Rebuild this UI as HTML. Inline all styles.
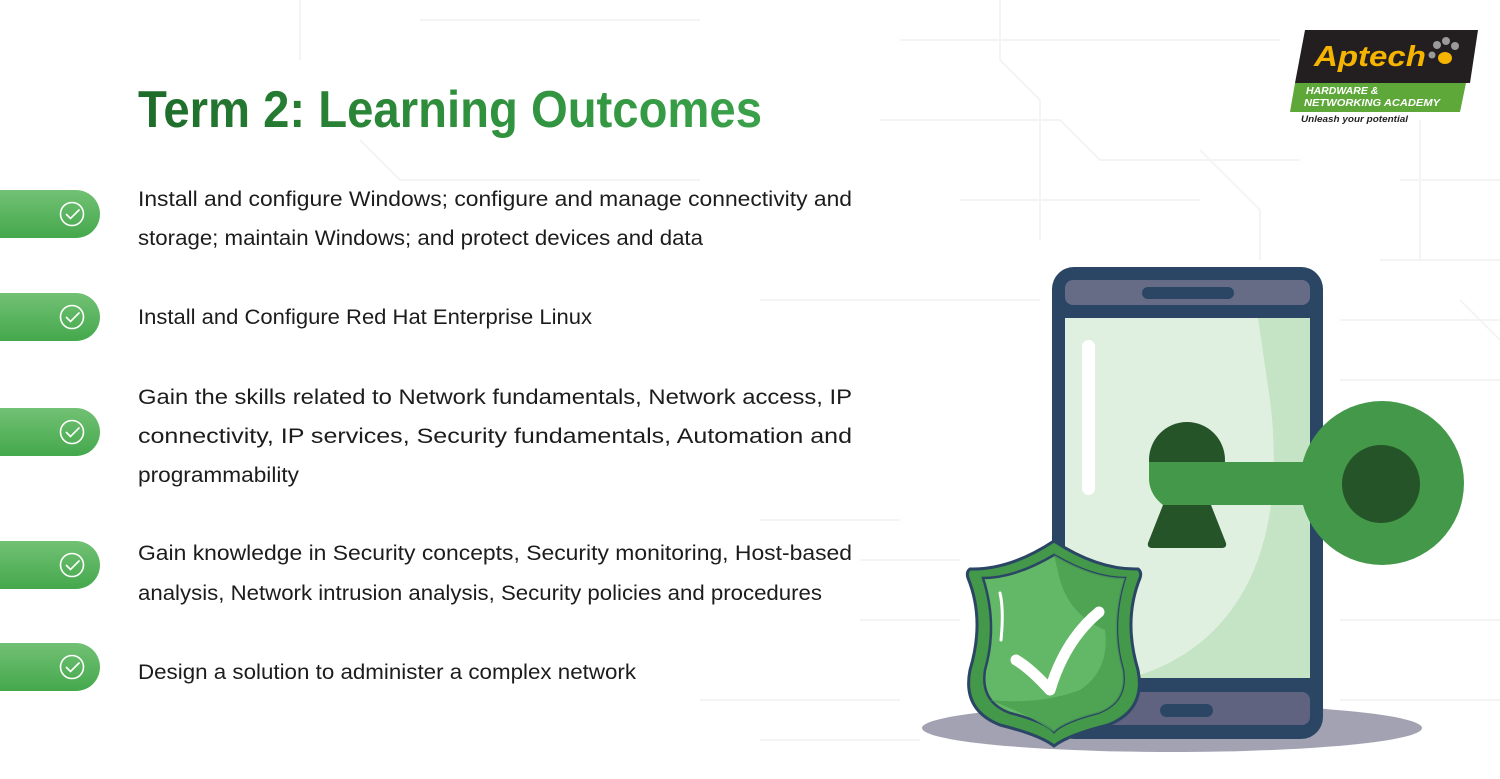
<!DOCTYPE html>
<html><head><meta charset="utf-8"><style>
html,body{margin:0;padding:0;background:#fff}
svg{display:block}
</style></head><body>
<svg width="1500" height="779" viewBox="0 0 1500 779" xmlns="http://www.w3.org/2000/svg">
<defs>
<linearGradient id="tg" x1="0" x2="1" y1="0" y2="0"><stop offset="0" stop-color="#1e6b2a"/><stop offset="0.5" stop-color="#2f8f3c"/><stop offset="1" stop-color="#3aa14a"/></linearGradient>
<linearGradient id="pg" x1="0" x2="0" y1="0" y2="1"><stop offset="0" stop-color="#72c174"/><stop offset="1" stop-color="#44a84c"/></linearGradient>
</defs>
<rect width="1500" height="779" fill="#fff"/>
<g stroke="#f4f4f4" stroke-width="2" fill="none">
<path d="M900 40 H1280 M880 120 H1060 L1100 160 H1300 M960 200 H1200 M1400 180 H1500 M1380 260 H1500 M880 300 H1040 M1340 320 H1500 M1340 380 H1500 M1340 620 H1500 M1340 700 H1500 M860 560 H960 M860 620 H960 M1000 0 V60 L1040 100 V240 M1200 150 L1260 210 V260 M1420 120 V260 M1460 300 L1500 340"/>
<path d="M300 0 V60 M360 140 L400 180 H700 M420 20 H700 M760 300 H900 M760 520 H900 M700 700 H900 M760 740 H920"/>
</g>
<text x="138" y="127" font-family="Liberation Sans, sans-serif" font-weight="bold" font-size="52" fill="url(#tg)" textLength="624" lengthAdjust="spacingAndGlyphs">Term 2: Learning Outcomes</text>
<g id="pills">
<g transform="translate(0,190)"><rect x="-30" y="0" width="130" height="48" rx="24" fill="url(#pg)"/><circle cx="72" cy="24" r="11.5" fill="none" stroke="#fff" stroke-width="1.6"/><path d="M66 24 l4.5 4.5 l9 -9" fill="none" stroke="#fff" stroke-width="1.6"/></g>
<g transform="translate(0,293)"><rect x="-30" y="0" width="130" height="48" rx="24" fill="url(#pg)"/><circle cx="72" cy="24" r="11.5" fill="none" stroke="#fff" stroke-width="1.6"/><path d="M66 24 l4.5 4.5 l9 -9" fill="none" stroke="#fff" stroke-width="1.6"/></g>
<g transform="translate(0,408)"><rect x="-30" y="0" width="130" height="48" rx="24" fill="url(#pg)"/><circle cx="72" cy="24" r="11.5" fill="none" stroke="#fff" stroke-width="1.6"/><path d="M66 24 l4.5 4.5 l9 -9" fill="none" stroke="#fff" stroke-width="1.6"/></g>
<g transform="translate(0,541)"><rect x="-30" y="0" width="130" height="48" rx="24" fill="url(#pg)"/><circle cx="72" cy="24" r="11.5" fill="none" stroke="#fff" stroke-width="1.6"/><path d="M66 24 l4.5 4.5 l9 -9" fill="none" stroke="#fff" stroke-width="1.6"/></g>
<g transform="translate(0,643)"><rect x="-30" y="0" width="130" height="48" rx="24" fill="url(#pg)"/><circle cx="72" cy="24" r="11.5" fill="none" stroke="#fff" stroke-width="1.6"/><path d="M66 24 l4.5 4.5 l9 -9" fill="none" stroke="#fff" stroke-width="1.6"/></g>
</g>
<g font-family="Liberation Sans, sans-serif" font-size="21" fill="#1c1c1c">
<text x="138" y="206" textLength="714" lengthAdjust="spacingAndGlyphs">Install and configure Windows; configure and manage connectivity and</text>
<text x="138" y="245" textLength="565" lengthAdjust="spacingAndGlyphs">storage; maintain Windows; and protect devices and data</text>
<text x="138" y="324" textLength="454" lengthAdjust="spacingAndGlyphs">Install and Configure Red Hat Enterprise Linux</text>
<text x="138" y="404" textLength="714" lengthAdjust="spacingAndGlyphs">Gain the skills related to Network fundamentals,  Network access, IP</text>
<text x="138" y="443" textLength="714" lengthAdjust="spacingAndGlyphs">connectivity,  IP  services,  Security  fundamentals,  Automation  and</text>
<text x="138" y="482" textLength="161" lengthAdjust="spacingAndGlyphs">programmability</text>
<text x="138" y="560" textLength="714" lengthAdjust="spacingAndGlyphs">Gain knowledge in Security concepts, Security monitoring, Host-based</text>
<text x="138" y="600" textLength="684" lengthAdjust="spacingAndGlyphs">analysis, Network intrusion analysis, Security policies and procedures</text>
<text x="138" y="679" textLength="498" lengthAdjust="spacingAndGlyphs">Design a solution to administer a complex network</text>
</g>
<polygon points="1305,30 1478,30 1470,83 1295,83" fill="#231f20"/>
<polygon points="1295,83 1466,83 1460,112 1290,112" fill="#5ea83a"/>
<text x="1314" y="66" font-family="Liberation Sans, sans-serif" font-weight="bold" font-style="italic" font-size="29" fill="#f5b400" textLength="112" lengthAdjust="spacingAndGlyphs">Aptech</text>
<g fill="#9a9a9a"><circle cx="1437" cy="45" r="4"/><circle cx="1446" cy="41" r="4"/><circle cx="1455" cy="46" r="4"/><circle cx="1432" cy="55" r="3.5"/><ellipse cx="1445" cy="58" rx="7" ry="6" fill="#f5b400"/></g>
<text x="1306" y="94" font-family="Liberation Sans, sans-serif" font-weight="bold" font-style="italic" font-size="10.5" fill="#fff">HARDWARE &amp;</text>
<text x="1304" y="106" font-family="Liberation Sans, sans-serif" font-weight="bold" font-style="italic" font-size="10.5" fill="#fff" textLength="136" lengthAdjust="spacingAndGlyphs">NETWORKING ACADEMY</text>
<text x="1301" y="122" font-family="Liberation Sans, sans-serif" font-weight="bold" font-style="italic" font-size="9.5" fill="#231f20" textLength="107" lengthAdjust="spacingAndGlyphs">Unleash your potential</text>
<ellipse cx="1172" cy="728" rx="250" ry="24" fill="#a3a2b2"/>
<rect x="1052" y="267" width="271" height="472" rx="22" fill="#2b4665"/>
<rect x="1065" y="280" width="245" height="25" rx="8" fill="#666b86"/>
<rect x="1142" y="287" width="92" height="12" rx="6" fill="#2b4665"/>
<rect x="1065" y="318" width="245" height="360" fill="#e0f0e0"/>
<path d="M1258 318 H1310 V678 H1130 C1230 650 1290 560 1270 400 Z" fill="#c5e3c5"/>
<rect x="1082" y="340" width="13" height="155" rx="6.5" fill="#fff"/>
<rect x="1065" y="692" width="245" height="33" rx="8" fill="#5f6380"/>
<rect x="1160" y="704" width="53" height="13" rx="6.5" fill="#2b4665"/>
<circle cx="1187" cy="460" r="38" fill="#245428"/>
<path d="M1163 505 H1211 L1226 543 Q1227 548 1222 548 H1152 Q1147 548 1148 543 Z" fill="#245428"/>
<path d="M1149 462 H1310 V505 H1163 Q1150 495 1149 480 Z" fill="#43984a"/>
<circle cx="1382" cy="483" r="82" fill="#43984a"/>
<circle cx="1381" cy="484" r="39" fill="#245428"/>
<path d="M1054 541 Q1010 570 970 569 Q966 572 968 578 Q985 620 970 670 Q962 710 1000 725 Q1040 735 1054 746 Q1068 735 1108 725 Q1146 710 1138 670 Q1123 620 1140 578 Q1142 572 1138 569 Q1098 570 1054 541 Z" fill="#43984a" stroke="#2b4665" stroke-width="3"/>
<path d="M1054 555 Q1015 578 983 578 Q998 625 985 670 Q980 702 1010 713 Q1045 722 1054 732 Q1063 722 1098 713 Q1128 702 1123 670 Q1110 625 1125 578 Q1093 578 1054 555 Z" fill="#63b867" stroke="#2b4665" stroke-width="2.5"/>
<path d="M1054 555 Q1093 578 1125 578 Q1110 625 1123 670 Q1128 702 1098 713 Q1063 722 1054 732 Q1030 715 990 700 Q1040 705 1080 690 Q1110 670 1105 630 Q1070 615 1060 580 Z" fill="#4aa050" opacity="0.85"/>
<path d="M1016 660 Q1030 668 1050 690 Q1065 640 1099 612" fill="none" stroke="#fff" stroke-width="11" stroke-linecap="round" stroke-linejoin="round"/>
<path d="M1000 593 Q1004 610 1001 640" fill="none" stroke="#fff" stroke-width="3" stroke-linecap="round"/>
</svg>
</body></html>
